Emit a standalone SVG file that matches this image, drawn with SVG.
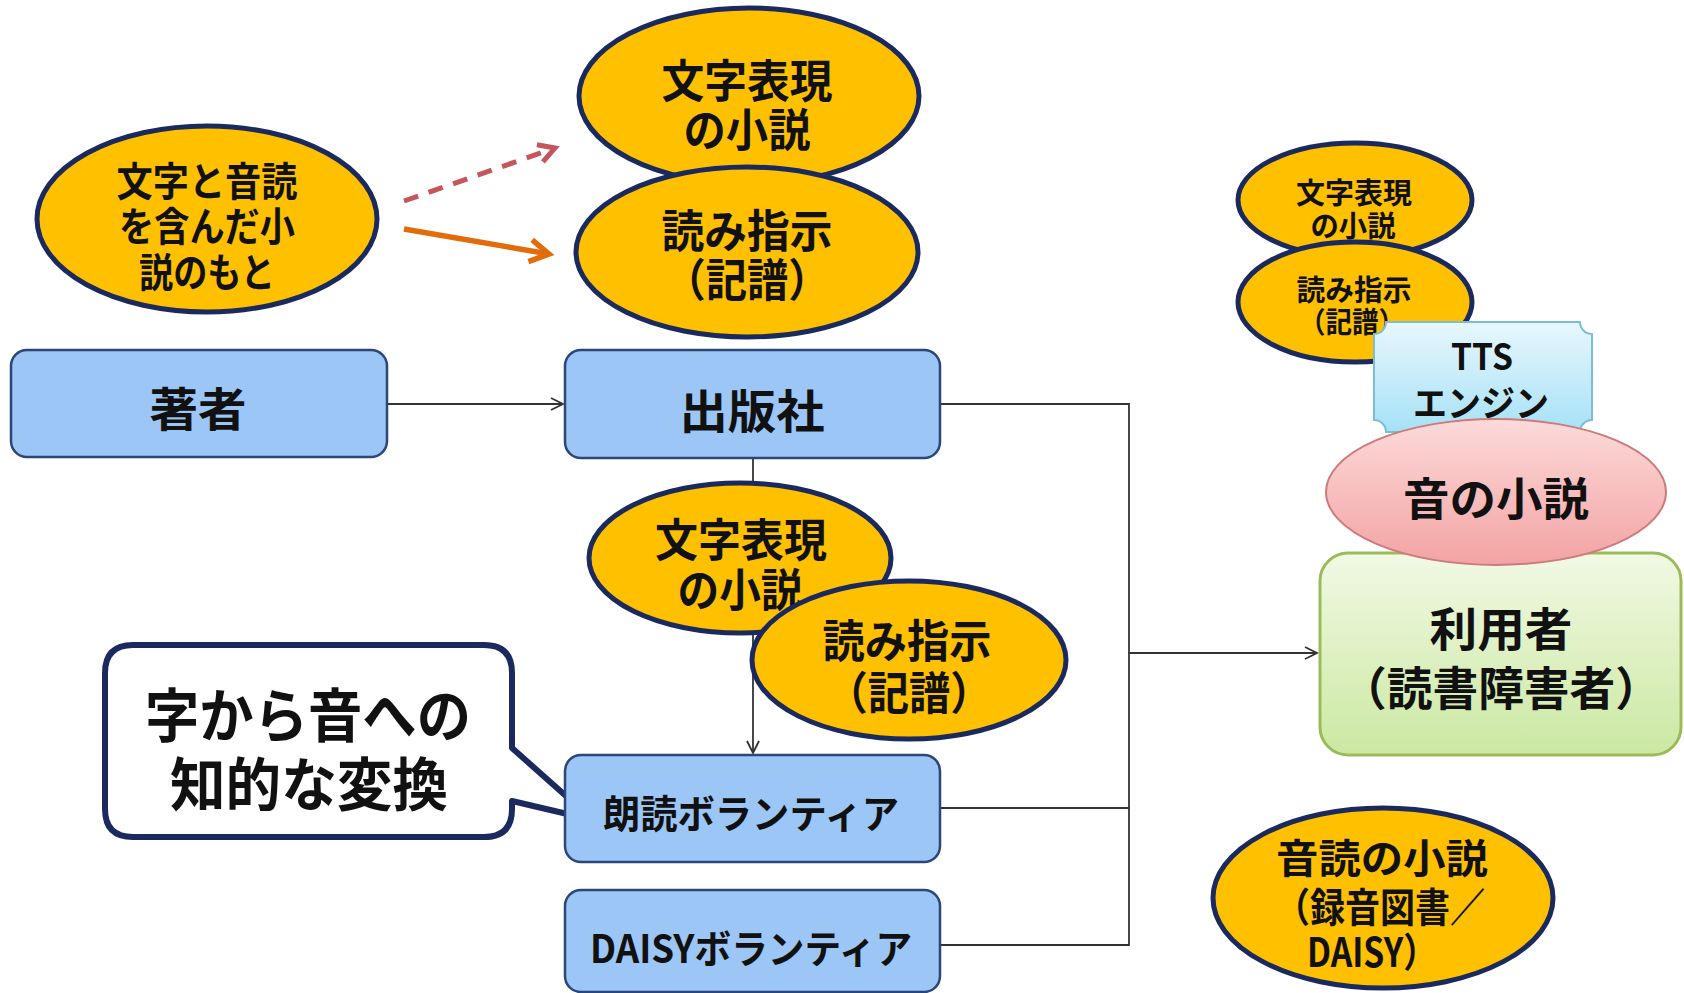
<svg xmlns="http://www.w3.org/2000/svg" width="1684" height="993" viewBox="0 0 1684 993">
<defs>
<style>
.t{font-family:"Noto Sans CJK JP","Noto Sans",sans-serif;font-weight:bold;fill:#111;text-anchor:middle;dominant-baseline:central}
.ell{fill:#FFC000;stroke:#1B2A5E;stroke-width:5}
.box{fill:#9BC6F6;stroke:#2C4677;stroke-width:2.5}
.con{fill:none;stroke:#333;stroke-width:1.8}
</style>
<marker id="ah" markerUnits="userSpaceOnUse" markerWidth="16" markerHeight="16" refX="13" refY="7" orient="auto">
<path d="M1,1 L13,7 L1,13" fill="none" stroke="#333" stroke-width="1.8"/>
</marker>
<marker id="ahRed" markerUnits="userSpaceOnUse" markerWidth="28" markerHeight="28" refX="22" refY="12" orient="auto">
<path d="M6,3 L22,12 L6,21" fill="none" stroke="#C4565C" stroke-width="5"/>
</marker>
<marker id="ahOr" markerUnits="userSpaceOnUse" markerWidth="32" markerHeight="32" refX="24" refY="14" orient="auto">
<path d="M5,3 L24,14 L5,25" fill="none" stroke="#E36C0A" stroke-width="5.5"/>
</marker>
<linearGradient id="gTTS" x1="0" y1="0" x2="0" y2="1">
<stop offset="0" stop-color="#E8F7FD"/><stop offset="1" stop-color="#A6E1F6"/>
</linearGradient>
<linearGradient id="gPink" x1="0" y1="0" x2="0" y2="1">
<stop offset="0" stop-color="#FCDADA"/><stop offset="1" stop-color="#F3A3A3"/>
</linearGradient>
<linearGradient id="gGreen" x1="0" y1="0" x2="0" y2="1">
<stop offset="0" stop-color="#F1F9E4"/><stop offset="1" stop-color="#CBE8A2"/>
</linearGradient>
</defs>
<rect width="1684" height="993" fill="#fff"/>

<g id="connectors">
<line class="con" x1="387" y1="404" x2="563" y2="404" marker-end="url(#ah)"/>
<line class="con" x1="753" y1="458" x2="753" y2="753" marker-end="url(#ah)"/>
<polyline class="con" points="940,404 1129,404 1129,945 940,945"/>
<line class="con" x1="940" y1="808" x2="1129" y2="808"/>
<line class="con" x1="1129" y1="653" x2="1317" y2="653" marker-end="url(#ah)"/>
<line x1="404" y1="201" x2="555" y2="148" stroke="#C4565C" stroke-width="5" stroke-dasharray="15,11" marker-end="url(#ahRed)"/>
<line x1="404" y1="229" x2="549" y2="254" stroke="#E36C0A" stroke-width="5.5" marker-end="url(#ahOr)"/>
</g>

<g id="source">
<ellipse class="ell" cx="207" cy="219" rx="170" ry="93"/>
<text class="t" x="207" y="179" font-size="40" textLength="181" lengthAdjust="spacingAndGlyphs">文字と音読</text>
<text class="t" x="207" y="224" font-size="40" textLength="176" lengthAdjust="spacingAndGlyphs">を含んだ小</text>
<text class="t" x="207" y="270" font-size="40" textLength="136" lengthAdjust="spacingAndGlyphs">説のもと</text>
</g>

<g id="text-novel-top">
<ellipse class="ell" cx="749" cy="96" rx="170" ry="88"/>
<text class="t" x="747" y="78" font-size="45" textLength="171" lengthAdjust="spacingAndGlyphs">文字表現</text>
<text class="t" x="747" y="127" font-size="45" textLength="127" lengthAdjust="spacingAndGlyphs">の小説</text>
</g>
<g id="reading-top">
<ellipse class="ell" cx="747" cy="252" rx="171" ry="85"/>
<text class="t" x="747" y="228" font-size="45" textLength="171" lengthAdjust="spacingAndGlyphs">読み指示</text>
<text class="t" x="747" y="277" font-size="45" textLength="165" lengthAdjust="spacingAndGlyphs">（記譜）</text>
</g>

<g id="author">
<rect class="box" x="11" y="350" width="376" height="107" rx="16"/>
<text class="t" x="198" y="406" font-size="46" textLength="97" lengthAdjust="spacingAndGlyphs">著者</text>
</g>
<g id="publisher">
<rect class="box" x="565" y="350" width="375" height="108" rx="16"/>
<text class="t" x="752" y="408" font-size="46" textLength="145" lengthAdjust="spacingAndGlyphs">出版社</text>
</g>

<g id="text-novel-mid">
<ellipse class="ell" cx="740" cy="558" rx="151" ry="75"/>
<text class="t" x="741" y="537" font-size="45" textLength="172" lengthAdjust="spacingAndGlyphs">文字表現</text>
<text class="t" x="740" y="587" font-size="45" textLength="125" lengthAdjust="spacingAndGlyphs">の小説</text>
</g>
<g id="reading-mid">
<ellipse class="ell" cx="909" cy="660" rx="157" ry="79"/>
<text class="t" x="907" y="638" font-size="45" textLength="169" lengthAdjust="spacingAndGlyphs">読み指示</text>
<text class="t" x="909" y="690" font-size="45" textLength="165" lengthAdjust="spacingAndGlyphs">（記譜）</text>
</g>

<g id="callout">
<path d="M133,645 H484 Q512,645 512,673 V748 L593,820 L512,801 V809 Q512,837 484,837 H133 Q105,837 105,809 V673 Q105,645 133,645 Z" fill="#fff" stroke="#1B2A5E" stroke-width="6" stroke-linejoin="round"/>
<text class="t" x="308" y="712" font-size="58" textLength="326" lengthAdjust="spacingAndGlyphs">字から音への</text>
<text class="t" x="309" y="781" font-size="58" textLength="278" lengthAdjust="spacingAndGlyphs">知的な変換</text>
</g>

<g id="reading-volunteer">
<rect class="box" x="565" y="755" width="375" height="107" rx="16"/>
<text class="t" x="751" y="811" font-size="39" textLength="296" lengthAdjust="spacingAndGlyphs">朗読ボランティア</text>
</g>
<g id="daisy-volunteer">
<rect class="box" x="565" y="890" width="375" height="102" rx="16"/>
<text class="t" x="751" y="946" font-size="39" textLength="322" lengthAdjust="spacingAndGlyphs">DAISYボランティア</text>
</g>

<g id="text-novel-right">
<ellipse class="ell" cx="1355" cy="200" rx="117" ry="57"/>
<text class="t" x="1354" y="191" font-size="29" textLength="116" lengthAdjust="spacingAndGlyphs">文字表現</text>
<text class="t" x="1353" y="224" font-size="29" textLength="85" lengthAdjust="spacingAndGlyphs">の小説</text>
</g>
<g id="reading-right">
<ellipse class="ell" cx="1355" cy="302" rx="117" ry="60"/>
<text class="t" x="1354" y="288" font-size="29" textLength="115" lengthAdjust="spacingAndGlyphs">読み指示</text>
<text class="t" x="1352" y="320" font-size="29" textLength="106" lengthAdjust="spacingAndGlyphs">（記譜）</text>
</g>
<g id="tts">
<path d="M1386,322 H1580 A12,12 0 0 0 1592,334 V420 A12,12 0 0 0 1580,432 H1386 A12,12 0 0 0 1374,420 V334 A12,12 0 0 0 1386,322 Z" fill="url(#gTTS)" stroke="#7DBDD3" stroke-width="2"/>
<text class="t" x="1482" y="354" font-size="36" textLength="62" lengthAdjust="spacingAndGlyphs">TTS</text>
<text class="t" x="1481" y="401" font-size="36" textLength="136" lengthAdjust="spacingAndGlyphs">エンジン</text>
</g>

<g id="user">
<rect x="1320" y="553" width="361" height="202" rx="28" fill="url(#gGreen)" stroke="#9BBB59" stroke-width="3"/>
<text class="t" x="1501" y="626" font-size="46" textLength="143" lengthAdjust="spacingAndGlyphs">利用者</text>
<text class="t" x="1501" y="685" font-size="46" textLength="320" lengthAdjust="spacingAndGlyphs">（読書障害者）</text>
</g>
<g id="sound-novel">
<ellipse cx="1496" cy="492" rx="170" ry="73" fill="url(#gPink)" stroke="#CC7A7A" stroke-width="2"/>
<text class="t" x="1496" y="496" font-size="45" textLength="186" lengthAdjust="spacingAndGlyphs">音の小説</text>
</g>

<g id="audio-book">
<ellipse class="ell" cx="1383" cy="898" rx="170" ry="90"/>
<text class="t" x="1382" y="856" font-size="40" textLength="212" lengthAdjust="spacingAndGlyphs">音読の小説</text>
<text class="t" x="1380" y="905" font-size="40" textLength="210" lengthAdjust="spacingAndGlyphs">（録音図書／</text>
<text class="t" x="1372" y="950" font-size="40" textLength="130" lengthAdjust="spacingAndGlyphs">DAISY）</text>
</g>
</svg>
